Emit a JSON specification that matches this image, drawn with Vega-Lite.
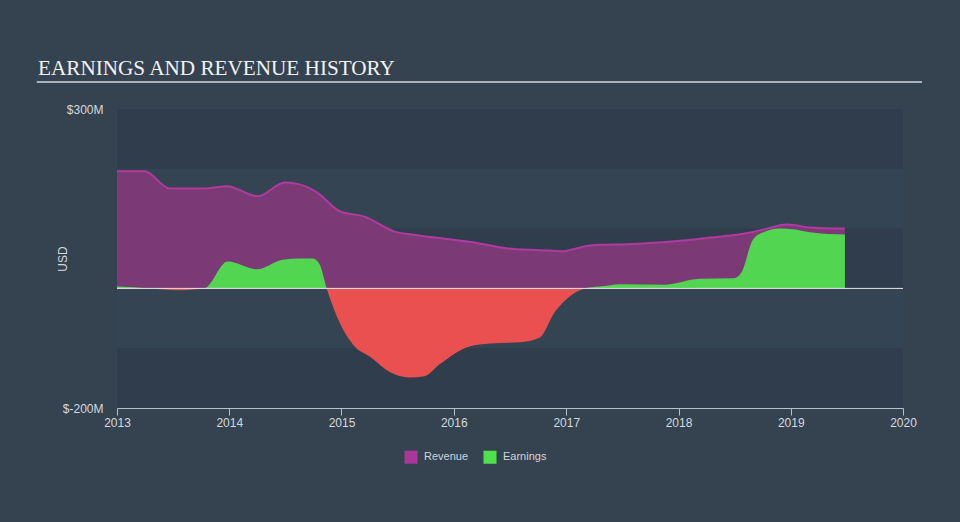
{
  "$schema": "https://vega.github.io/schema/vega-lite/v6.json",
  "width": 786,
  "height": 299,
  "autosize": "none",
  "padding": {"left": 117, "top": 109, "right": 57, "bottom": 114},
  "background": "#354250",
  "config": {
    "view": {"stroke": null},
    "font": "Liberation Sans"
  },
  "title": {
    "text": "EARNINGS AND REVENUE HISTORY",
    "anchor": "start",
    "frame": "group",
    "dx": -79,
    "dy": 19,
    "offset": 4,
    "baseline": "alphabetic",
    "font": "Liberation Serif",
    "fontSize": 21.2,
    "fontWeight": "normal",
    "color": "#f2f2f2"
  },
  "datasets": {
    "bands": [
      {"lo": 200, "hi": 300, "kind": "dark"},
      {"lo": 100, "hi": 200, "kind": "light"},
      {"lo": 0, "hi": 100, "kind": "dark"},
      {"lo": -100, "hi": 0, "kind": "light"},
      {"lo": -200, "hi": -100, "kind": "dark"}
    ],
    "series": [
      {"series": "Revenue", "date": "2013-01-01", "value": 196},
      {"series": "Revenue", "date": "2013-04-01", "value": 196},
      {"series": "Revenue", "date": "2013-06-22", "value": 167},
      {"series": "Revenue", "date": "2013-10-12", "value": 167},
      {"series": "Revenue", "date": "2013-12-25", "value": 171},
      {"series": "Revenue", "date": "2014-04-03", "value": 154},
      {"series": "Revenue", "date": "2014-07-01", "value": 177},
      {"series": "Revenue", "date": "2014-08-18", "value": 174},
      {"series": "Revenue", "date": "2014-10-12", "value": 161},
      {"series": "Revenue", "date": "2014-12-26", "value": 129},
      {"series": "Revenue", "date": "2015-03-17", "value": 120},
      {"series": "Revenue", "date": "2015-06-23", "value": 95},
      {"series": "Revenue", "date": "2015-09-02", "value": 89},
      {"series": "Revenue", "date": "2015-12-19", "value": 82},
      {"series": "Revenue", "date": "2016-03-16", "value": 76},
      {"series": "Revenue", "date": "2016-06-20", "value": 67},
      {"series": "Revenue", "date": "2016-10-07", "value": 64},
      {"series": "Revenue", "date": "2016-12-22", "value": 62},
      {"series": "Revenue", "date": "2017-01-20", "value": 65},
      {"series": "Revenue", "date": "2017-03-08", "value": 71},
      {"series": "Revenue", "date": "2017-04-20", "value": 73},
      {"series": "Revenue", "date": "2017-07-17", "value": 74},
      {"series": "Revenue", "date": "2017-12-20", "value": 79},
      {"series": "Revenue", "date": "2018-04-15", "value": 85},
      {"series": "Revenue", "date": "2018-07-15", "value": 90},
      {"series": "Revenue", "date": "2018-09-23", "value": 97},
      {"series": "Revenue", "date": "2018-12-20", "value": 107},
      {"series": "Revenue", "date": "2019-03-01", "value": 102},
      {"series": "Revenue", "date": "2019-06-26", "value": 100},
      {"series": "Earnings", "date": "2013-01-01", "value": 3},
      {"series": "Earnings", "date": "2013-04-17", "value": 0},
      {"series": "Earnings", "date": "2013-07-17", "value": -3},
      {"series": "Earnings", "date": "2013-10-12", "value": 0},
      {"series": "Earnings", "date": "2013-12-27", "value": 45},
      {"series": "Earnings", "date": "2014-04-01", "value": 32},
      {"series": "Earnings", "date": "2014-06-24", "value": 48},
      {"series": "Earnings", "date": "2014-08-18", "value": 50},
      {"series": "Earnings", "date": "2014-09-29", "value": 50},
      {"series": "Earnings", "date": "2014-10-22", "value": 40},
      {"series": "Earnings", "date": "2014-11-14", "value": 0},
      {"series": "Earnings", "date": "2014-12-26", "value": -57},
      {"series": "Earnings", "date": "2015-02-13", "value": -97},
      {"series": "Earnings", "date": "2015-04-03", "value": -114},
      {"series": "Earnings", "date": "2015-06-07", "value": -140},
      {"series": "Earnings", "date": "2015-08-10", "value": -149},
      {"series": "Earnings", "date": "2015-09-28", "value": -147},
      {"series": "Earnings", "date": "2015-11-16", "value": -127},
      {"series": "Earnings", "date": "2016-02-21", "value": -97},
      {"series": "Earnings", "date": "2016-04-27", "value": -92},
      {"series": "Earnings", "date": "2016-08-03", "value": -90},
      {"series": "Earnings", "date": "2016-10-07", "value": -82},
      {"series": "Earnings", "date": "2016-11-24", "value": -40},
      {"series": "Earnings", "date": "2017-01-13", "value": -13},
      {"series": "Earnings", "date": "2017-03-03", "value": 0},
      {"series": "Earnings", "date": "2017-04-21", "value": 3},
      {"series": "Earnings", "date": "2017-06-25", "value": 7},
      {"series": "Earnings", "date": "2017-11-15", "value": 6},
      {"series": "Earnings", "date": "2018-03-11", "value": 16},
      {"series": "Earnings", "date": "2018-07-01", "value": 17},
      {"series": "Earnings", "date": "2018-07-25", "value": 27},
      {"series": "Earnings", "date": "2018-09-01", "value": 82},
      {"series": "Earnings", "date": "2018-10-10", "value": 95},
      {"series": "Earnings", "date": "2018-11-25", "value": 100},
      {"series": "Earnings", "date": "2019-01-08", "value": 99},
      {"series": "Earnings", "date": "2019-03-04", "value": 94},
      {"series": "Earnings", "date": "2019-06-26", "value": 90}
    ]
  },
  "layer": [
    {
      "data": {"name": "bands"},
      "mark": {"type": "rect"},
      "encoding": {
        "y": {"field": "lo", "type": "quantitative", "scale": {"domain": [-200, 300], "nice": false, "zero": false}},
        "y2": {"field": "hi"},
        "fill": {"field": "kind", "type": "nominal", "scale": {"domain": ["dark", "light"], "range": ["#2f3d4c", "#344453"]}, "legend": null}
      }
    },
    {
      "data": {"name": "series"},
      "transform": [{"filter": "datum.series === 'Revenue'"}],
      "mark": {"type": "area", "interpolate": "monotone", "fill": "#7b3a75", "opacity": 1},
      "encoding": {
        "x": {"field": "date", "type": "temporal", "scale": {"type": "utc", "domain": [{"year": 2013, "utc": true}, {"year": 2020, "utc": true}]},
          "axis": {"format": "%Y", "tickCount": {"interval": "year", "step": 1}, "grid": false, "title": null,
            "domainColor": "#b6c0ca", "tickColor": "#b6c0ca", "tickSize": 7, "labelColor": "#d3d9df", "labelFontSize": 12, "labelPadding": 2, "labelFlush": false}},
        "y": {"field": "value", "type": "quantitative",
          "axis": {"values": [-200, 300], "labelExpr": "'$' + datum.value + 'M'", "grid": false, "domain": false, "ticks": false,
            "labelPadding": 14, "labelColor": "#d3d9df", "labelFontSize": 12, "title": "USD", "titleColor": "#d3d9df",
            "titleFontSize": 12, "titleFontWeight": "normal", "titleX": -55, "titleBaseline": "middle"}}
      }
    },
    {
      "data": {"name": "series"},
      "transform": [{"filter": "datum.series === 'Revenue'"}],
      "mark": {"type": "line", "interpolate": "monotone", "stroke": "#b03aa0", "strokeWidth": 2},
      "encoding": {
        "x": {"field": "date", "type": "temporal"},
        "y": {"field": "value", "type": "quantitative"}
      }
    },
    {
      "data": {"name": "series"},
      "transform": [{"filter": "datum.series === 'Earnings'"}],
      "mark": {"type": "area", "interpolate": "monotone",
        "fill": {"gradient": "linear", "x1": 0, "y1": 0, "x2": 0, "y2": 1,
          "stops": [
            {"offset": 0, "color": "#52d652"},
            {"offset": 0.4016, "color": "#52d652"},
            {"offset": 0.4016, "color": "#ea5050"},
            {"offset": 1, "color": "#ea5050"}
          ]}},
      "encoding": {
        "x": {"field": "date", "type": "temporal"},
        "y": {"field": "value", "type": "quantitative"}
      }
    },
    {
      "data": {"values": [{}]},
      "mark": {"type": "rule", "stroke": "#e6e9ec", "strokeWidth": 1},
      "encoding": {"y": {"datum": 0}}
    },
    {
      "data": {"values": [{}]},
      "mark": {"type": "rule", "stroke": "#aab2bb", "strokeWidth": 2},
      "encoding": {
        "x": {"datum": {"year": 2012, "month": 4, "date": 15, "utc": true}},
        "x2": {"datum": {"year": 2020, "month": 3, "date": 3, "utc": true}},
        "y": {"datum": 345}
      }
    },
    {
      "data": {"name": "series"},
      "mark": {"type": "point", "shape": "square", "filled": true, "opacity": 0},
      "encoding": {
        "x": {"field": "date", "type": "temporal"},
        "y": {"field": "value", "type": "quantitative"},
        "color": {"field": "series", "type": "nominal",
          "scale": {"domain": ["Revenue", "Earnings"], "range": ["#a9389b", "#50e04d"]},
          "legend": {"orient": "none", "legendX": 287, "legendY": 341, "direction": "horizontal", "title": null,
            "symbolType": "square", "symbolSize": 170, "symbolOpacity": 1, "symbolStrokeWidth": 0,
            "labelColor": "#cfd5db", "labelFontSize": 11, "columnPadding": 14, "labelOffset": 6}}
      }
    }
  ]
}
